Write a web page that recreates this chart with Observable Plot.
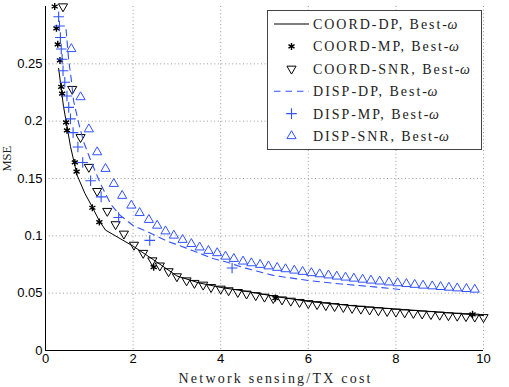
<!DOCTYPE html>
<html>
<head>
<meta charset="utf-8">
<script src="https://cdn.jsdelivr.net/npm/d3@7"></script>
<script src="https://cdn.jsdelivr.net/npm/@observablehq/plot@0.6"></script>
<style>
  html, body { margin: 0; padding: 0; background: #fff; }
  #chart { width: 509px; height: 387px; }
</style>
</head>
<body>
<div id="chart"></div>
<script>
// ---- data ----
const xTicks = [0, 2, 4, 6, 8, 10];
const yTicks = [0, 0.05, 0.1, 0.15, 0.2, 0.25];

const coordDpX = [0.30,0.36,0.41,0.48,0.57,0.66,0.72,0.90,1.07,1.23,1.37,2.00,2.47,3.00,3.50,4.00,4.60,5.30,6.00,7.00,8.00,9.00,10.00];
const coordDpY = [0.246,0.228,0.213,0.198,0.178,0.163,0.153,0.137,0.125,0.113,0.105,0.091,0.079,0.065,0.059,0.055,0.0515,0.0468,0.0428,0.0390,0.0362,0.0335,0.0305];

const coordMpX = [0.21,0.25,0.28,0.33,0.36,0.38,0.47,0.49,0.67,0.71,1.07,1.23,2.47,5.25,9.75];
const coordMpY = [0.300,0.281,0.267,0.253,0.230,0.224,0.199,0.192,0.164,0.156,0.1245,0.112,0.0727,0.0457,0.0315];

const coordSnrX = [0.40,0.61,0.80,0.99,1.18,1.41,1.60,1.79,2.02,2.23,2.44,2.61,2.81,3.00,3.22,3.40,3.60,3.78,4.00,4.18,4.39,4.59,4.80,5.00,5.20,5.40,5.60,5.80,6.00,6.20,6.40,6.60,6.80,7.00,7.20,7.40,7.60,7.80,8.00,8.20,8.40,8.60,8.80,9.00,9.20,9.40,9.60,9.80,10.00];
const coordSnrY = [0.300,0.228,0.186,0.160,0.139,0.1216,0.110,0.1018,0.0921,0.085,0.0785,0.074,0.069,0.0646,0.061,0.0588,0.0573,0.0552,0.0538,0.0524,0.0509,0.0495,0.0481,0.0468,0.0456,0.0444,0.0433,0.0422,0.0412,0.0403,0.0394,0.0386,0.0378,0.0370,0.0363,0.0356,0.0349,0.0343,0.0337,0.0331,0.0326,0.0321,0.0316,0.0311,0.0306,0.0302,0.0298,0.0294,0.0290];

const dispDpX = [0.47,0.53,0.59,0.64,0.76,0.87,1.03,1.26,1.50,1.70,2.00,2.30,2.80,3.10,3.50,3.84,4.15,4.50,5.20,6.00,6.75,7.50,8.14];
const dispDpY = [0.280,0.253,0.236,0.218,0.198,0.182,0.166,0.145,0.127,0.118,0.109,0.104,0.095,0.091,0.085,0.080,0.077,0.0725,0.0655,0.061,0.058,0.0555,0.053];

const dispMpX = [0.30,0.32,0.34,0.36,0.38,0.40,0.44,0.49,0.53,0.57,0.63,0.74,0.85,1.03,1.27,1.67,2.38,4.26];
const dispMpY = [0.291,0.283,0.273,0.263,0.254,0.244,0.234,0.222,0.212,0.202,0.190,0.1775,0.164,0.148,0.134,0.116,0.096,0.072];

const dispSnrX = [0.59,0.80,0.99,1.18,1.37,1.56,1.75,1.96,2.15,2.36,2.55,2.74,2.93,3.13,3.33,3.52,3.72,3.92,4.11,4.30,4.51,4.70,4.90,5.09,5.29,5.48,5.68,5.87,6.07,6.26,6.46,6.65,6.85,7.04,7.24,7.43,7.63,7.84,8.04,8.24,8.43,8.62,8.83,9.02,9.21,9.40,9.61,9.80];
const dispSnrY = [0.263,0.221,0.193,0.173,0.1585,0.1454,0.135,0.1265,0.120,0.114,0.109,0.104,0.1003,0.0966,0.093,0.090,0.087,0.085,0.082,0.080,0.0777,0.0762,0.0748,0.0735,0.0722,0.071,0.0698,0.0687,0.0676,0.0666,0.0656,0.0646,0.0637,0.0628,0.0619,0.0611,0.0603,0.0595,0.0588,0.0581,0.0574,0.0567,0.0561,0.0555,0.0549,0.0543,0.0538,0.0532];

const legendLabels = ["COORD-DP, Best-", "COORD-MP, Best-", "COORD-SNR, Best-", "DISP-DP, Best-", "DISP-MP, Best-", "DISP-SNR, Best-"];
const legendOmega = "ω";
const xLabel = "Network sensing/TX cost";
const yLabel = "MSE";

// ---- layout (text widths of the LaTeX-rendered labels, px) ----
const legendTextWidths = [134, 135.5, 146.5, 114, 115.5, 125.5];
const xLabelWidth = 192;

// ---- build tables ----
const pts = (xs, ys) => xs.map((x, i) => ({x, y: ys[i]}));
const coordDp = pts(coordDpX, coordDpY);
const coordMp = pts(coordMpX, coordMpY);
const coordSnr = pts(coordSnrX, coordSnrY);
const dispDp = pts(dispDpX, dispDpY);
const dispMp = pts(dispMpX, dispMpY);
const dispSnr = pts(dispSnrX, dispSnrY);

const BLUE = "#3152ff";
const tickFont = "'Liberation Sans', Arial, sans-serif";
const serif = "'Liberation Serif', 'Times New Roman', serif";

const R_TRI = 3.4, R_PLUS = 3.5, R_AST = 3.3;

const chart = Plot.plot({
  width: 509,
  height: 387,
  marginTop: 6,
  marginBottom: 37,
  marginLeft: 45,
  marginRight: 26,
  style: {background: "#fff", overflow: "visible"},
  x: {domain: [0, 10]},
  y: {domain: [0, 0.3]},
  marks: [
    Plot.gridX(xTicks, {stroke: "#9a9a9a", strokeOpacity: 1, strokeDasharray: "1,2.6"}),
    Plot.gridY(yTicks, {stroke: "#9a9a9a", strokeOpacity: 1, strokeDasharray: "1,2.6"}),
    Plot.ruleX([0], {stroke: "#000", strokeWidth: 1}),
    Plot.ruleY([0], {stroke: "#000", strokeWidth: 1}),
    Plot.axisX(xTicks, {tickSize: 0, tickPadding: 3, fontSize: 13, fontFamily: tickFont, fill: "#000", label: null, tickFormat: d3.format("")}),
    Plot.axisY(yTicks, {tickSize: 0, tickPadding: 3, fontSize: 13, fontFamily: tickFont, fill: "#000", label: null, tickFormat: d3.format("")}),
    Plot.line(coordDp, {x: "x", y: "y", stroke: "#000", strokeWidth: 1}),
    Plot.dot(coordMp, {x: "x", y: "y", symbol: "asterisk", r: R_AST, stroke: "#000", strokeWidth: 1.4}),
    Plot.dot(coordSnr, {x: "x", y: "y", symbol: "triangle", rotate: 180, r: R_TRI, fill: "none", stroke: "#000", strokeWidth: 1}),
    Plot.line(dispDp, {x: "x", y: "y", stroke: BLUE, strokeWidth: 1.1, strokeDasharray: "6.5,5"}),
    Plot.dot(dispMp, {x: "x", y: "y", symbol: "plus", r: R_PLUS, stroke: BLUE, strokeWidth: 1.1}),
    Plot.dot(dispSnr, {x: "x", y: "y", symbol: "triangle", r: R_TRI, fill: "none", stroke: BLUE, strokeWidth: 1}),
    Plot.text([xLabel], {text: d => d, frameAnchor: "bottom", dx: 10, dy: 28, lineAnchor: "middle", fontSize: 14, fontFamily: serif, fill: "#222"}),
    Plot.text([yLabel], {text: d => d, frameAnchor: "left", dx: -39, dy: -7, rotate: -90, lineAnchor: "middle", fontSize: 12.5, fontFamily: serif, fill: "#222"})
  ]
});

document.getElementById("chart").appendChild(chart);

// stretch the x label to the LaTeX width
d3.select(chart).selectAll("text").filter(function() { return this.textContent === xLabel; })
  .attr("textLength", xLabelWidth).attr("lengthAdjust", "spacing");

// ---- legend ----
const svg = d3.select(chart);
const lg = svg.append("g").attr("aria-label", "legend").attr("text-anchor", "start");
const box = {x: 267.5, y: 10.5, w: 214, h: 139};
lg.append("rect").attr("x", box.x).attr("y", box.y).attr("width", box.w).attr("height", box.h)
  .attr("fill", "#fff").attr("stroke", "#444").attr("stroke-width", 1);
const rowY0 = 24, rowDY = 22.4, sx0 = 274, sx1 = 309, tx = 313;
const symSize = r => Math.PI * r * r;
const entries = [
  {type: "line", color: "#000"},
  {type: "sym", sym: d3.symbolAsterisk, r: R_AST, color: "#000", sw: 1.4},
  {type: "sym", sym: d3.symbolTriangle, r: R_TRI, color: "#000", rot: 180, fill: "none", sw: 1},
  {type: "dash", color: BLUE},
  {type: "sym", sym: d3.symbolPlus, r: R_PLUS, color: BLUE, sw: 1.1},
  {type: "sym", sym: d3.symbolTriangle, r: R_TRI, color: BLUE, fill: "none", sw: 1}
];
entries.forEach((e, i) => {
  const cy = rowY0 + i * rowDY;
  if (e.type === "line" || e.type === "dash") {
    lg.append("line").attr("x1", sx0).attr("x2", sx1).attr("y1", cy).attr("y2", cy)
      .attr("stroke", e.color).attr("stroke-width", 1.1)
      .attr("stroke-dasharray", e.type === "dash" ? "6.5,5" : null);
  } else {
    lg.append("path").attr("d", d3.symbol(e.sym, symSize(e.r))())
      .attr("transform", `translate(${(sx0 + sx1) / 2},${cy})` + (e.rot ? ` rotate(${e.rot})` : ""))
      .attr("fill", e.fill || "none").attr("stroke", e.color).attr("stroke-width", e.sw);
  }
  lg.append("text").attr("x", tx).attr("y", cy).attr("dy", "0.35em")
    .attr("text-anchor", "start")
    .attr("font-family", serif).attr("font-size", 14).attr("fill", "#222")
    .text(legendLabels[i])
    .attr("textLength", legendTextWidths[i]).attr("lengthAdjust", "spacing");
  lg.append("text").attr("x", tx + legendTextWidths[i] + 0.5).attr("y", cy).attr("dy", "0.35em")
    .attr("text-anchor", "start")
    .attr("font-family", serif).attr("font-size", 14).attr("font-style", "italic").attr("fill", "#222")
    .text(legendOmega);
});
</script>
</body>
</html>
